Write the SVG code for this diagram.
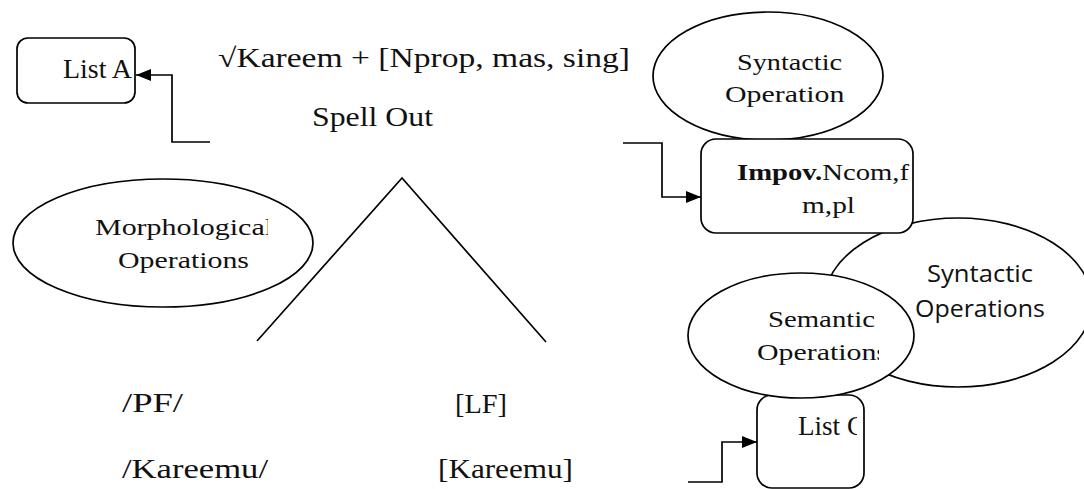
<svg xmlns="http://www.w3.org/2000/svg" width="1084" height="489" viewBox="0 0 1084 489">
<style>
.shape{fill:#fff;stroke:#000;stroke-width:1.7}
.line{fill:none;stroke:#000;stroke-width:1.7}
.serif{font-family:"Liberation Serif","Times New Roman",serif;fill:#111}
.main{font-size:27px}
.small{font-size:24px}
.sans{font-family:"Open Sans","Noto Sans",sans-serif;font-size:24px;fill:#111}
</style>
<defs>
<marker id="arrow" markerUnits="userSpaceOnUse" markerWidth="15" markerHeight="12" refX="15" refY="6" orient="auto">
<path d="M0,0 L15,6 L0,12 z" fill="#000"/>
</marker>
<clipPath id="clipSynTop"><rect x="640" y="0" width="205" height="140"/></clipPath>
<clipPath id="clipMorph"><rect x="10" y="175" width="258" height="135"/></clipPath>
<clipPath id="clipSem"><rect x="690" y="270" width="189" height="130"/></clipPath>
<clipPath id="clipImpov"><rect x="702" y="140" width="210" height="92"/></clipPath>
<clipPath id="clipListC"><rect x="758" y="396" width="99" height="93"/></clipPath>
</defs>

<g id="list-a">
<rect class="shape" x="17" y="38" width="118" height="65" rx="11"/>
<text class="serif main" x="63" y="78" textLength="69" lengthAdjust="spacingAndGlyphs">List A</text>
</g>

<g id="root-features">
<text class="serif main" x="218" y="67" textLength="412" lengthAdjust="spacingAndGlyphs">√Kareem + [Nprop, mas, sing]</text>
</g>

<g id="spell-out">
<text class="serif main" x="312" y="126" textLength="121" lengthAdjust="spacingAndGlyphs">Spell Out</text>
</g>

<g id="syntactic-top">
<ellipse class="shape" cx="768" cy="76" rx="115" ry="64"/>
<g clip-path="url(#clipSynTop)">
<text class="serif small" x="737" y="70" textLength="105" lengthAdjust="spacingAndGlyphs">Syntactic</text>
<text class="serif small" x="725" y="102" textLength="131" lengthAdjust="spacingAndGlyphs">Operations</text>
</g>
</g>

<g id="syntactic-big">
<ellipse class="shape" cx="958" cy="302.5" rx="134" ry="84.5"/>
<text class="sans" x="927" y="282" textLength="106" lengthAdjust="spacingAndGlyphs">Syntactic</text>
<text class="sans" x="915" y="317" textLength="130" lengthAdjust="spacingAndGlyphs">Operations</text>
</g>

<g id="impov">
<rect class="shape" x="701" y="139" width="212" height="94" rx="15"/>
<g clip-path="url(#clipImpov)">
<text class="serif small" x="737" y="180" textLength="172" lengthAdjust="spacingAndGlyphs"><tspan font-weight="bold">Impov.</tspan>Ncom,f</text>
<text class="serif small" x="802" y="213" textLength="53" lengthAdjust="spacingAndGlyphs">m,pl</text>
</g>
</g>

<g id="morphological">
<ellipse class="shape" cx="163" cy="243" rx="150" ry="64"/>
<g clip-path="url(#clipMorph)">
<text class="serif small" x="95" y="235" textLength="178" lengthAdjust="spacingAndGlyphs">Morphological</text>
<text class="serif small" x="118" y="268" textLength="131" lengthAdjust="spacingAndGlyphs">Operations</text>
</g>
</g>

<g id="list-c">
<rect class="shape" x="757" y="395" width="107" height="93" rx="15"/>
<g clip-path="url(#clipListC)">
<text class="serif main" x="798" y="435" textLength="67" lengthAdjust="spacingAndGlyphs">List C</text>
</g>
</g>

<g id="semantic">
<ellipse class="shape" cx="801" cy="335.5" rx="113" ry="62.5"/>
<g clip-path="url(#clipSem)">
<text class="serif small" x="768" y="327" textLength="107" lengthAdjust="spacingAndGlyphs">Semantic</text>
<text class="serif small" x="757" y="360" textLength="131" lengthAdjust="spacingAndGlyphs">Operations</text>
</g>
</g>

<g id="pf">
<text class="serif main" x="122" y="412" textLength="61" lengthAdjust="spacingAndGlyphs">/PF/</text>
</g>
<g id="lf">
<text class="serif main" x="455" y="413" textLength="52" lengthAdjust="spacingAndGlyphs">[LF]</text>
</g>
<g id="pf-form">
<text class="serif main" x="122" y="478" textLength="146" lengthAdjust="spacingAndGlyphs">/Kareemu/</text>
</g>
<g id="lf-form">
<text class="serif main" x="438" y="478" textLength="135" lengthAdjust="spacingAndGlyphs">[Kareemu]</text>
</g>

<g id="connectors">
<polyline class="line" points="257,341 402,178 546,342"/>
<path class="line" d="M210,142 H172 V75 H136" marker-end="url(#arrow)"/>
<path class="line" d="M623,143 H662 V197 H701" marker-end="url(#arrow)"/>
<path class="line" d="M688,482 H722 V442 H757" marker-end="url(#arrow)"/>
</g>
</svg>
